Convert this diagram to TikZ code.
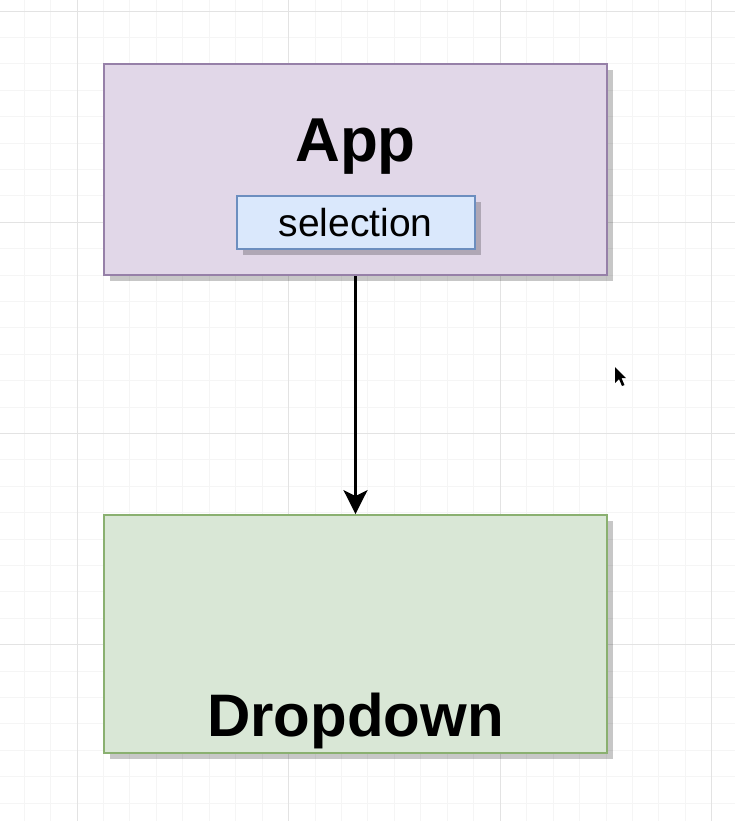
\documentclass[tikz,border=0pt]{standalone}
\usepackage{fontspec}
\setmainfont{Liberation Sans}
\usepackage{xcolor}
\usepackage{tikz}
\usetikzlibrary{positioning, arrows.meta, shadows}
\definecolor{appfill}{HTML}{E1D7E8}
\definecolor{appline}{HTML}{9680A8}
\definecolor{varfill}{HTML}{DAE8FC}
\definecolor{varline}{HTML}{6C8EBF}
\definecolor{dropfill}{HTML}{D9E7D6}
\definecolor{dropline}{HTML}{8AB070}
\tikzset{
        node distance=119pt, % gap between the two components
        x=0.5pt, y=-0.5pt, % one unit is one pixel of the screenshot
    }
\tikzstyle{comp}=[draw,line width=1.1pt,minimum width=251.5pt,inner sep=0pt,drop shadow={shadow xshift=3pt,shadow yshift=-3pt,fill=black,opacity=0.22}]
\tikzstyle{var}=[draw=varline,fill=varfill,line width=1pt,minimum width=119pt,minimum height=26.5pt,inner sep=0pt,font=\fontsize{19.5}{23}\selectfont,drop shadow={shadow xshift=3pt,shadow yshift=-3pt,fill=black,opacity=0.22}]
\tikzstyle{title}=[inner sep=0pt,anchor=base,font=\fontsize{31}{37}\selectfont\bfseries]
\tikzstyle{flow}=[line width=1.3pt,-{Stealth[length=12pt,width=12pt,inset=3pt]}]
\tikzstyle{minorgrid}=[draw=black!4,line width=0.5pt]
\tikzstyle{majorgrid}=[draw=black!11,line width=0.5pt]

\begin{document}
\begin{tikzpicture}
    \useasboundingbox[fill=white] (0,0) rectangle (735,821);
    % grid of the drawing canvas
    \foreach \k in {-2,...,24}
        \draw[minorgrid] ({77+26.45*\k},0) -- ({77+26.45*\k},821);
    \foreach \k in {0,...,30}
        \draw[minorgrid] (0,{11+26.4*\k}) -- (735,{11+26.4*\k});
    \foreach \k in {0,8,16,24} {
        \draw[majorgrid] ({77+26.45*\k},0) -- ({77+26.45*\k},821);
        \draw[majorgrid] (0,{11+26.4*\k}) -- (735,{11+26.4*\k});
    }

    % components
    \node[comp, draw=appline, fill=appfill, minimum height=105.5pt] (app) at (355.5,169.5) {};
    \node[title] (apptitle) at ([yshift=-49.5pt]app.north) {App};
    \node[var, above=13pt of app.south] (selection) {selection};
    \node[comp, draw=dropline, fill=dropfill, minimum height=119pt, below=of app] (dropdown) {};
    \node[title, font=\fontsize{30}{36}\selectfont\bfseries] (droptitle) at ([yshift=9pt]dropdown.south) {Dropdown};

    \draw[flow] (app) -- (dropdown);

    % mouse pointer
    \fill (615,367) -- (615,383) -- (619,379) -- (622,386) -- (624.5,385) -- (621.5,378) -- (626,378) -- cycle;
\end{tikzpicture}
\end{document}
